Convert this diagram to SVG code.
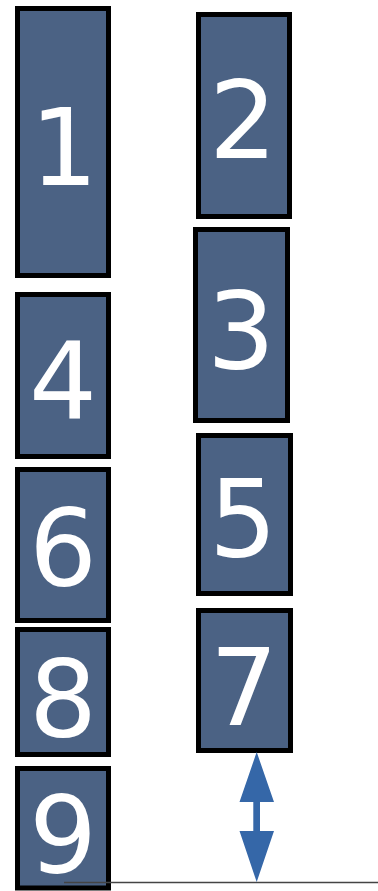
<svg xmlns="http://www.w3.org/2000/svg" width="378" height="891" viewBox="0 0 378 891">
<style>
.box{fill:#4b6284;stroke:#000;stroke-width:5}
.lbl{font-family:"DejaVu Sans",sans-serif;font-size:107px;fill:#fff;text-anchor:middle}
</style>
<rect width="378" height="891" fill="#fff"/>
<g id="n1"><rect class="box" x="17.5" y="8.5" width="91" height="267"/><text class="lbl" x="64" y="185">1</text></g>
<g id="n2"><rect class="box" x="198.5" y="14.5" width="91" height="202"/><text class="lbl" x="243" y="158">2</text></g>
<g id="n3"><rect class="box" x="195.5" y="229.5" width="92" height="191"/><text class="lbl" x="241" y="368">3</text></g>
<g id="n4"><rect class="box" x="17.5" y="294.5" width="91" height="162"/><text class="lbl" x="63" y="418">4</text></g>
<g id="n5"><rect class="box" x="198.5" y="435.5" width="92" height="158"/><text class="lbl" x="243" y="556">5</text></g>
<g id="n6"><rect class="box" x="17.5" y="469.5" width="91" height="151"/><text class="lbl" x="63" y="585">6</text></g>
<g id="n7"><rect class="box" x="198.5" y="610.5" width="92" height="140"/><text class="lbl" x="244" y="725">7</text></g>
<g id="n8"><rect class="box" x="17.5" y="629.5" width="91" height="125"/><text class="lbl" x="63" y="736">8</text></g>
<g id="n9"><rect class="box" x="17.5" y="768.5" width="91" height="119.5"/><text class="lbl" x="63" y="872">9</text></g>
<g id="connectors">
<line x1="64" y1="882.5" x2="378" y2="882.5" stroke="#444" stroke-width="1.3"/>
<polygon points="256.7,752 274,802 260,802 260,831 274,831 256.7,882 239.5,831 253.3,831 253.3,802 239.5,802" fill="#3567a8"/>
</g>
</svg>
